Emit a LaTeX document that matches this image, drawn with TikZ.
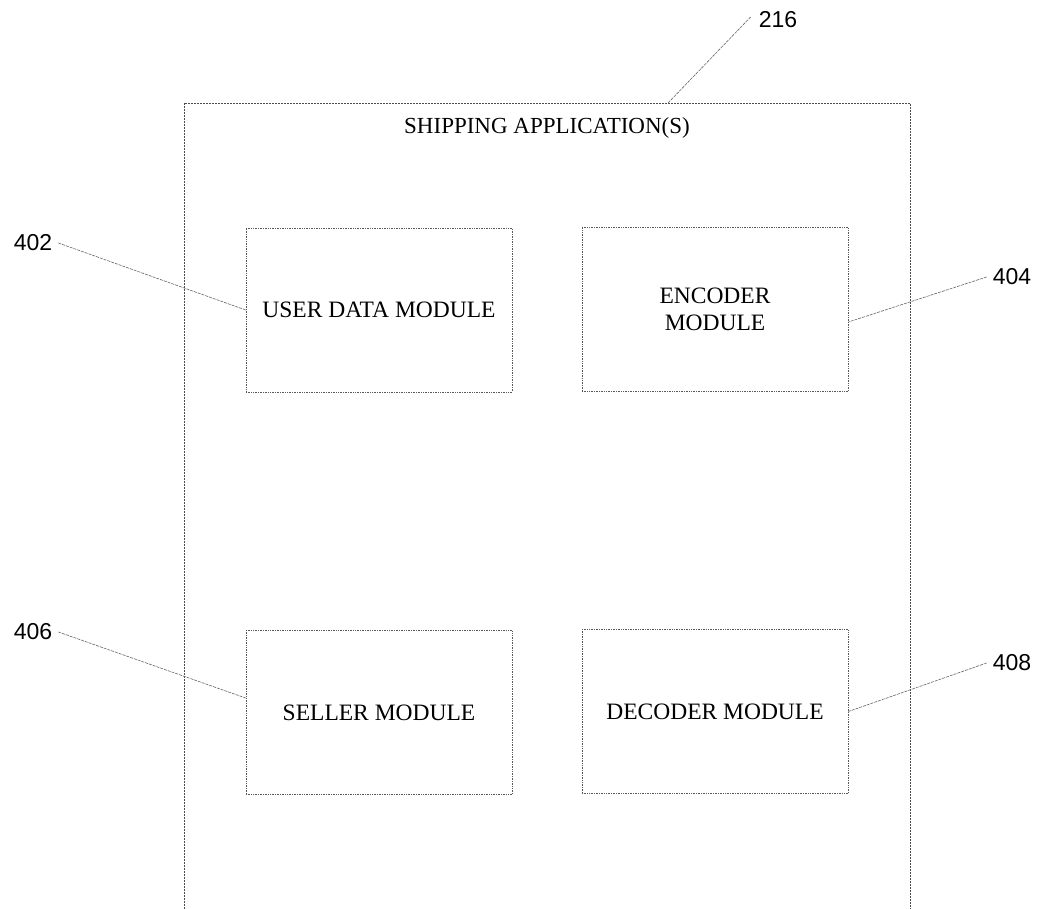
\documentclass[tikz,border=0pt]{standalone}
\usepackage{fontspec}
\setmainfont{Liberation Serif}
\newfontfamily\numfont{Liberation Sans}
\begin{document}
\begin{tikzpicture}[x=1pt,y=-1pt,
  module/.style={draw=black!65, line width=0.7pt, densely dotted, minimum width=266pt,
    minimum height=164pt, inner sep=0pt, align=center, font=\fontsize{23.5}{27}\selectfont},
  frame/.style={draw=black!70, line width=0.8pt, dash pattern=on 2pt off 1pt},
  refnum/.style={inner sep=0pt, font=\numfont\fontsize{23}{26}\selectfont},
  leader/.style={draw=black!60, line width=0.6pt, dash pattern=on 3pt off 1pt}]
\useasboundingbox (0,0) rectangle (1038,909);
\fill[white] (0,0) rectangle (1038,909);

% application frame, open at the bottom
\coordinate (fbl) at (184,909);
\coordinate (fbr) at (910,909);
\coordinate (ftop) at (668,103);
\draw[frame] (fbl) |- (910,103) -- (fbr);
\node[font=\fontsize{23}{26}\selectfont] (title) at (547,128) {SHIPPING APPLICATION(S)};

% modules
\node[module] (m402) at (379,310) {USER DATA MODULE};
\node[module] (m404) at (715,309.5) {ENCODER\\MODULE};
\node[module] (m406) at (379,712.5) {SELLER MODULE};
\node[module] (m408) at (715,711.5) {DECODER MODULE};

% reference numerals
\node[refnum] (n216) at (778,20) {216};
\node[refnum] (n402) at (33,243) {402};
\node[refnum] (n404) at (1012,277) {404};
\node[refnum] (n406) at (33,632) {406};
\node[refnum] (n408) at (1012,663) {408};

% leader lines
\draw[leader] ([xshift=-8pt,yshift=3pt]n216.west) -- (ftop);
\draw[leader] ([xshift=6pt]n402.east) -- (m402.west);
\draw[leader] ([xshift=-6pt]n404.west) -- ([yshift=-12.5pt]m404.east);
\draw[leader] ([xshift=6pt]n406.east) -- ([yshift=14.5pt]m406.west);
\draw[leader] ([xshift=-6pt]n408.west) -- (m408.east);
\end{tikzpicture}
\end{document}
